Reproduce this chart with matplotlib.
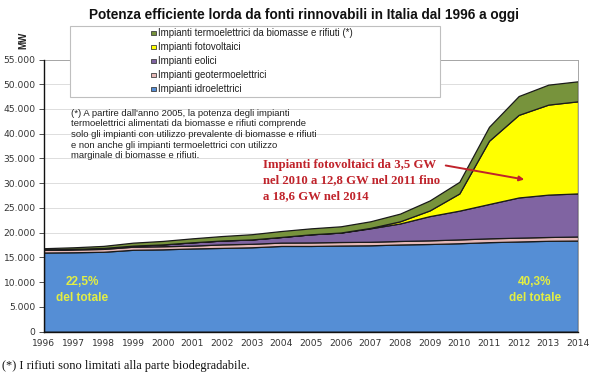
import matplotlib
matplotlib.use("Agg")
import matplotlib.pyplot as plt
from matplotlib.patches import Rectangle, FancyArrowPatch
from matplotlib.ticker import FuncFormatter

# ---------------- data ----------------
years = list(range(1996, 2015))
hydro = [16000, 16050, 16150, 16550, 16641, 16820, 16932, 17056, 17326, 17326,
         17412, 17459, 17623, 17722, 17876, 18092, 18232, 18366, 18418]
geothermal = [542, 559, 579, 621, 627, 573, 707, 707, 681, 711,
              711, 711, 711, 737, 772, 772, 772, 773, 821]
wind = [70, 119, 180, 211, 363, 664, 780, 874, 1131, 1639,
        1908, 2714, 3538, 4898, 5814, 6936, 8119, 8561, 8703]
solar = [7, 7, 7, 7, 7, 7, 7, 7, 7, 7,
         7, 87, 432, 1144, 3470, 12773, 16690, 18185, 18609]
bio = [250, 320, 420, 600, 700, 800, 900, 1050, 1200, 1201,
       1256, 1336, 1555, 2019, 2352, 2825, 3802, 4033, 4043]

legend_labels = ["Impianti termoelettrici da biomasse e rifiuti (*)",
                 "Impianti fotovoltaici",
                 "Impianti eolici",
                 "Impianti geotermoelettrici",
                 "Impianti idroelettrici"]
title = "Potenza efficiente lorda da fonti rinnovabili in Italia dal 1996 a oggi"
note_lines = ["(*) A partire dall'anno 2005, la potenza degli impianti",
              "termoelettrici alimentati da biomasse e rifiuti comprende",
              "solo gli impianti con utilizzo prevalente di biomasse e rifiuti",
              "e non anche gli impianti termoelettrici con utilizzo",
              "marginale di biomasse e rifiuti."]
red_lines = ["Impianti fotovoltaici da 3,5 GW",
             "nel 2010 a 12,8 GW nel 2011 fino",
             "a 18,6 GW nel 2014"]
share_start = ["22,5%", "del totale"]
share_end = ["40,3%", "del totale"]
footnote = "(*) I rifiuti sono limitati alla parte biodegradabile."

# ---------------- style ----------------
c_hydro = "#558ED5"
c_geo = "#E6B9B8"
c_wind = "#8064A2"
c_solar = "#FFFF00"
c_bio = "#77933C"

W, H = 600, 374
fig = plt.figure(figsize=(W / 100, H / 100), dpi=100)
fig.patch.set_facecolor("white")

def fx(x):
    return x / W

def fy(y):
    return 1 - y / H

ax_l, ax_r, ax_t, ax_b = 44, 578, 59.5, 331.7
ax = fig.add_axes([fx(ax_l), fy(ax_b), fx(ax_r) - fx(ax_l), fy(ax_t) - fy(ax_b)])

ax.stackplot(years, hydro, geothermal, wind, solar, bio,
             colors=[c_hydro, c_geo, c_wind, c_solar, c_bio],
             edgecolor="#1a1a1a", linewidth=0.9, zorder=2)

ax.set_xlim(1996, 2014)
ax.set_ylim(0, 55000)
ax.set_yticks(range(0, 55001, 5000))
ax.set_xticks(years)
ax.yaxis.set_major_formatter(FuncFormatter(lambda v, p: f"{int(v):,}".replace(",", ".")))
ax.grid(axis="y", color="#DDDDDD", linewidth=0.7, zorder=0)
ax.set_axisbelow(True)
ax.tick_params(axis="y", length=3.5, width=0.6, pad=2.5, labelsize=6.6,
               colors="#333333", direction="out")
ax.tick_params(axis="x", length=0, pad=5, labelsize=6.6, colors="#333333")
for s in ("top", "right"):
    ax.spines[s].set_color("#A6A6A6")
    ax.spines[s].set_linewidth(0.7)
for s in ("left", "bottom"):
    ax.spines[s].set_color("#111111")
    ax.spines[s].set_linewidth(1.0)
ax.spines["left"].set_zorder(5)
ax.spines["bottom"].set_zorder(5)

# Title and unit
fig.text(fx(304), fy(15), title, ha="center", va="center",
         fontsize=9.8, fontweight="bold", family="Liberation Sans", color="#111111")
fig.text(fx(23), fy(40), "MW", ha="center", va="center", rotation=90,
         fontsize=7, fontweight="bold", family="Liberation Sans", color="#222222")

# Legend box (manual)
fig.add_artist(Rectangle((fx(70), fy(97)), fx(440) - fx(70), fy(26) - fy(97),
                         transform=fig.transFigure, facecolor="white",
                         edgecolor="#BFBFBF", linewidth=0.8, zorder=10))
leg_colors = [c_bio, c_solar, c_wind, c_geo, c_hydro]
for i, (lab, col) in enumerate(zip(legend_labels, leg_colors)):
    yy = 33 + i * 14
    fig.add_artist(Rectangle((fx(151), fy(yy + 2.4)), fx(4.8), fy(0) - fy(4.8),
                             transform=fig.transFigure, facecolor=col,
                             edgecolor="#404040", linewidth=0.6, zorder=11))
    fig.text(fx(158), fy(yy), lab, ha="left", va="center", fontsize=7.0,
             family="Liberation Sans", color="#222222", zorder=12)

# Note text
for i, line in enumerate(note_lines):
    fig.text(fx(71), fy(113 + i * 10.7), line, ha="left", va="center",
             fontsize=6.8, family="Liberation Sans", color="#222222")

# Red annotation
for i, line in enumerate(red_lines):
    fig.text(fx(263), fy(165 + i * 15.5), line, ha="left", va="center",
             fontsize=9.2, fontweight="bold", family="Liberation Serif", color="#C0232B")
fig.add_artist(FancyArrowPatch((fx(443), fy(165)), (fx(527), fy(180)),
                               transform=fig.transFigure, arrowstyle="-|>",
                               mutation_scale=7, color="#C0232B", linewidth=1.4, zorder=12))

# share labels
for (lines, xc) in ((share_start, 82), (share_end, 535)):
    for j, t in enumerate(lines):
        fig.text(fx(xc), fy(282 + j * 16), t, ha="center", va="center", fontsize=8.5,
                 fontweight="bold", family="Liberation Sans", color="#E2EE44")

# footnote
fig.text(fx(2), fy(366), footnote, ha="left", va="center", fontsize=8.9,
         family="Liberation Serif", color="#111111")

fig.savefig("out.png", dpi=100, facecolor="white")
